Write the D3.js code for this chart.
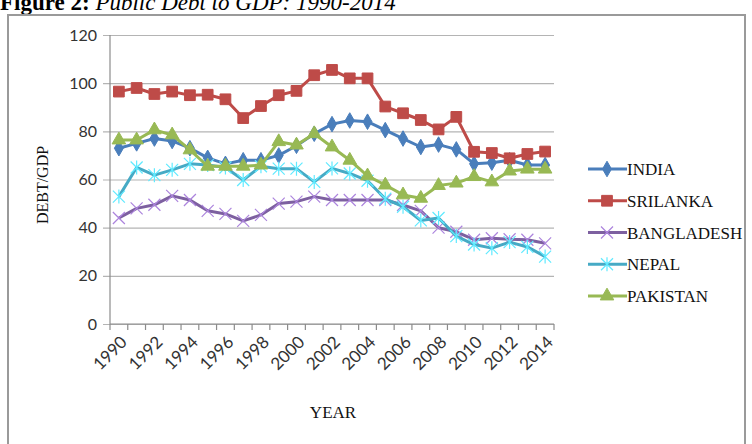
<!DOCTYPE html>
<html>
<head>
<meta charset="utf-8">
<script src="https://cdn.jsdelivr.net/npm/d3@7"></script>
<style>
  html, body { margin: 0; padding: 0; background: #fff; }
  svg { display: block; }
</style>
</head>
<body>
<svg id="chart" width="752" height="444"></svg>
<script>
// Public debt as a share of GDP, South Asian economies, 1990-2014
const years = d3.range(1990, 2015);
const india      = [73, 75, 77, 76, 73, 69, 66.5, 68, 68, 70, 74, 79, 83, 84.5, 84, 80.5, 77, 73.5, 74.5, 72.5, 66.5, 67, 68, 66, 66];
const srilanka   = [96.5, 98, 95.5, 96.5, 95, 95.2, 93.3, 85.5, 90.5, 95, 96.8, 103.3, 105.5, 102, 102, 90.3, 87.5, 84.7, 80.8, 86, 71.5, 71, 68.8, 70.6, 71.6];
const bangladesh = [44, 48, 49.5, 53.2, 51.5, 47, 45.7, 42.8, 45.3, 50, 50.8, 52.9, 51.5, 51.5, 51.5, 51.5, 49.4, 47, 40, 38.3, 35, 35.6, 35.2, 35, 33.5];
const nepal      = [52.9, 65, 61.8, 64, 66.5, 66, 65, 59.8, 65.5, 64.5, 64.5, 59, 64.6, 62.5, 59.5, 52, 48.7, 43, 44, 36.5, 33, 31.5, 34, 32, 28];
const pakistan   = [76.4, 76.4, 80.6, 78.5, 72.3, 65.5, 65.5, 65.5, 66, 75.7, 74.3, 79, 73.5, 68, 61.5, 57.7, 53.6, 52.2, 57.5, 58.5, 61.2, 59, 63.5, 64.3, 64.3];
const yTicks = [0, 20, 40, 60, 80, 100, 120];
const xLabelYears = years.filter(y => y % 2 === 0);

const series = [
  { name: "INDIA",      values: india,      color: "#4A7EBB", marker: "diamond" },
  { name: "SRILANKA",   values: srilanka,   color: "#BE4B48", marker: "square" },
  { name: "BANGLADESH", values: bangladesh, color: "#7D60A0", marker: "cross" },
  { name: "NEPAL",      values: nepal,      color: "#46AAC5", marker: "star" },
  { name: "PAKISTAN",   values: pakistan,   color: "#98B954", marker: "triangle" }
];

const svg = d3.select("#chart");
const plotLeft = 110, plotRight = 554, plotTop = 35, plotBottom = 324;

const x = d3.scaleBand().domain(years).range([plotLeft, plotRight]).padding(0);
const cx = yr => x(yr) + x.bandwidth() / 2;
const y = d3.scaleLinear().domain([0, 120]).range([plotBottom, plotTop]);

// Title (partly above the page edge)
const title = svg.append("text")
  .attr("x", 0).attr("y", 10)
  .attr("font-family", "'Liberation Serif', 'Times New Roman', serif")
  .attr("font-size", 23).attr("fill", "#000");
title.append("tspan").attr("font-weight", "bold").text("Figure 2: ");
title.append("tspan").attr("font-style", "italic").text("Public Debt to GDP: 1990-2014");

// Chart frame
svg.append("rect")
  .attr("x", 8).attr("y", 15).attr("width", 737).attr("height", 440)
  .attr("fill", "none").attr("stroke", "#9a9a9a").attr("stroke-width", 2);

// Gridlines and y axis
const yAxis = d3.axisLeft(y).tickValues(yTicks).tickSize(plotRight - plotLeft + 7).tickPadding(6);
const gy = svg.append("g").attr("transform", `translate(${plotRight},0)`).call(yAxis);
gy.select(".domain").remove();
gy.selectAll(".tick line").attr("stroke", "#b4b4b4").attr("stroke-width", 1.2);
gy.selectAll(".tick text")
  .attr("font-family", "Lato, 'Open Sans', sans-serif")
  .attr("font-size", 16).attr("fill", "#333");

svg.append("line")
  .attr("x1", plotLeft).attr("x2", plotLeft).attr("y1", plotTop).attr("y2", plotBottom)
  .attr("stroke", "#8c8c8c").attr("stroke-width", 1.2);

// X axis: ticks on every category boundary, labels on even years
const gx = svg.append("g").attr("transform", `translate(0,${plotBottom})`);
gx.append("line").attr("x1", plotLeft).attr("x2", plotRight)
  .attr("stroke", "#8c8c8c").attr("stroke-width", 1.2);
gx.selectAll("line.tk").data(years.concat([null])).join("line")
  .attr("class", "tk")
  .attr("x1", d => d === null ? plotRight : x(d))
  .attr("x2", d => d === null ? plotRight : x(d))
  .attr("y1", 0).attr("y2", 6)
  .attr("stroke", "#8c8c8c").attr("stroke-width", 1.2);
gx.selectAll("text").data(xLabelYears).join("text")
  .attr("transform", d => `translate(${cx(d) + 5},${15}) rotate(-45)`)
  .attr("text-anchor", "end")
  .attr("dy", "0.35em")
  .attr("font-family", "Lato, 'Open Sans', sans-serif")
  .attr("font-size", 17).attr("fill", "#333")
  .text(d => d);

// Axis titles
svg.append("text")
  .attr("transform", "translate(48,185) rotate(-90)")
  .attr("text-anchor", "middle")
  .attr("font-family", "'Liberation Serif', 'Times New Roman', serif")
  .attr("font-size", 16).attr("fill", "#111")
  .text("DEBT/GDP");
svg.append("text")
  .attr("x", 333).attr("y", 418)
  .attr("text-anchor", "middle")
  .attr("font-family", "'Liberation Serif', 'Times New Roman', serif")
  .attr("font-size", 17).attr("fill", "#111")
  .text("YEAR");

// Marker drawing
function drawMarker(g, type, color) {
  const light = d3.color(color).brighter(0.9).formatHex();
  if (type === "diamond") {
    g.append("path").attr("d", d3.symbol(d3.symbolDiamond, 70)()).attr("fill", color).attr("stroke", color);
  } else if (type === "square") {
    g.append("path").attr("d", d3.symbol(d3.symbolSquare, 115)()).attr("fill", color).attr("stroke", color);
  } else if (type === "triangle") {
    g.append("path").attr("d", d3.symbol(d3.symbolTriangle, 80)()).attr("fill", color).attr("stroke", color);
  } else if (type === "cross") {
    g.append("path").attr("d", "M-6,-6L6,6M-6,6L6,-6").attr("stroke", light).attr("stroke-width", 1.2).attr("fill", "none");
  } else if (type === "star") {
    g.append("path").attr("d", "M-6,-6L6,6M-6,6L6,-6M0,-7L0,7").attr("stroke", light).attr("stroke-width", 1.2).attr("fill", "none");
  }
}

const line = d3.line().x(d => cx(d.year)).y(d => y(d.value));

series.forEach(s => {
  const pts = years.map((yr, i) => ({ year: yr, value: s.values[i] }));
  const g = svg.append("g");
  g.append("path").datum(pts).attr("d", line)
    .attr("fill", "none").attr("stroke", s.color).attr("stroke-width", 3)
    .attr("stroke-linejoin", "round");
  pts.forEach(p => {
    const m = g.append("g").attr("transform", `translate(${cx(p.year)},${y(p.value)})`);
    drawMarker(m, s.marker, s.color);
  });
});

// Legend
const legendY = d3.scalePoint().domain(series.map(s => s.name)).range([169, 296]);
series.forEach(s => {
  const ly = legendY(s.name);
  const g = svg.append("g");
  g.append("line").attr("x1", 588).attr("x2", 627).attr("y1", ly).attr("y2", ly)
    .attr("stroke", s.color).attr("stroke-width", 3);
  const m = g.append("g").attr("transform", `translate(607,${ly})`);
  drawMarker(m, s.marker, s.color);
  g.append("text").attr("x", 627).attr("y", ly + 6)
    .attr("font-family", "'Liberation Serif', 'Times New Roman', serif")
    .attr("font-size", 17).attr("fill", "#111")
    .text(s.name);
});
</script>
</body>
</html>
